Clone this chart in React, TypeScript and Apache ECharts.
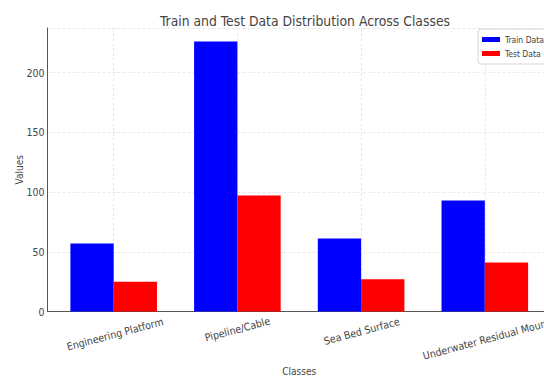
import React, { useEffect, useRef } from "react";
import * as echarts from "echarts";

const categories = ["Engineering Platform", "Pipeline/Cable", "Sea Bed Surface", "Underwater Residual Mound"];
const trainData = [57, 226, 61, 93];
const testData = [25, 97, 27, 41];
const yTicks = [0, 50, 100, 150, 200];

// extra downward shift (px) per rotated category label, so every label's box starts just under the axis
const labelShift = [10, 0, 4, 20];

const FONT = "'DejaVu Sans Condensed', 'DejaVu Sans', sans-serif";

const X_MIN = -0.535;
const X_MAX = categories.length - 1 + 0.535;
const Y_MAX = 237.3;
const GRID_LEFT = 47.5;
const GRID_WIDTH = 503.5;
const BAR_UNITS = 0.35;

export default function App() {
  const ref = useRef<HTMLDivElement>(null);

  useEffect(() => {
    if (!ref.current) return;
    const chart = echarts.init(ref.current, undefined, { renderer: "svg" });
    const pxPerUnit = GRID_WIDTH / (X_MAX - X_MIN);
    const barWidth = BAR_UNITS * pxPerUnit;
    const idx = categories.map((_, i) => i);

    const rich: Record<string, any> = {};
    labelShift.forEach((s, i) => {
      rich["c" + i] = {
        fontFamily: FONT,
        fontSize: 10.5,
        color: "#444",
        padding: [s, 0, 0, 0],
      };
    });

    const gridLine = {
      show: true,
      lineStyle: { color: "#e2e2e2", type: [3, 2] as any, width: 0.8 },
    };

    chart.setOption({
      animation: false,
      textStyle: { fontFamily: FONT },
      title: {
        text: "Train and Test Data Distribution Across Classes",
        left: 300,
        top: 9,
        textAlign: "center",
        textStyle: { fontFamily: FONT, fontSize: 13.8, fontWeight: "normal", color: "#444" },
      },
      legend: {
        orient: "vertical",
        left: 478,
        top: 29,
        padding: [6, 8, 6, 4],
        itemWidth: 18,
        itemHeight: 5,
        itemGap: 5,
        icon: "rect",
        backgroundColor: "rgba(255,255,255,0.85)",
        borderColor: "#d6d6d6",
        borderWidth: 1,
        borderRadius: 3,
        textStyle: { fontFamily: FONT, fontSize: 8.5, color: "#444" },
        data: ["Train Data", "Test Data"],
      },
      grid: {
        left: GRID_LEFT,
        top: 28,
        width: GRID_WIDTH,
        bottom: 64.5,
        containLabel: false,
        outerBoundsMode: "none",
      },
      xAxis: {
        type: "value",
        min: X_MIN,
        max: X_MAX,
        name: "Classes",
        nameLocation: "middle",
        nameGap: 55,
        nameMoveOverlap: false,
        nameTextStyle: { fontFamily: FONT, fontSize: 10, color: "#444", verticalAlign: "top" },
        axisLine: { show: true, onZero: false, lineStyle: { color: "#555", width: 1 } },
        axisTick: { show: false, customValues: idx },
        splitLine: gridLine,
        axisLabel: {
          customValues: idx,
          rotate: 15,
          margin: 17.5,
          align: "center",
          verticalAlign: "middle",
          formatter: (v: number) => {
            const i = Math.round(v);
            return "{c" + i + "|" + categories[i] + "}";
          },
          rich,
        },
      },
      yAxis: {
        type: "value",
        min: 0,
        max: Y_MAX,
        interval: 50,
        name: "Values",
        nameLocation: "middle",
        nameGap: 23,
        nameRotate: 90,
        nameMoveOverlap: false,
        nameTextStyle: { fontFamily: FONT, fontSize: 10, color: "#444" },
        axisLine: { show: true, onZero: false, lineStyle: { color: "#555", width: 1 } },
        axisTick: { show: false },
        splitLine: gridLine,
        axisLabel: {
          margin: 3,
          fontFamily: FONT,
          fontSize: 10.5,
          color: "#444",
          formatter: (v: number) => (yTicks.includes(v) ? String(v) : ""),
        },
      },
      series: [
        {
          name: "Train Data",
          type: "bar",
          barWidth,
          barGap: "0%",
          itemStyle: { color: "#0000ff" },
          data: trainData.map((v, i) => [i, v]),
        },
        {
          name: "Test Data",
          type: "bar",
          barWidth,
          barGap: "0%",
          itemStyle: { color: "#ff0000" },
          data: testData.map((v, i) => [i, v]),
        },
      ],
    });
    return () => chart.dispose();
  }, []);

  return (
    <div
      ref={ref}
      style={{ position: "fixed", left: 0, top: 0, width: 544, height: 376, background: "#fff" }}
    />
  );
}
